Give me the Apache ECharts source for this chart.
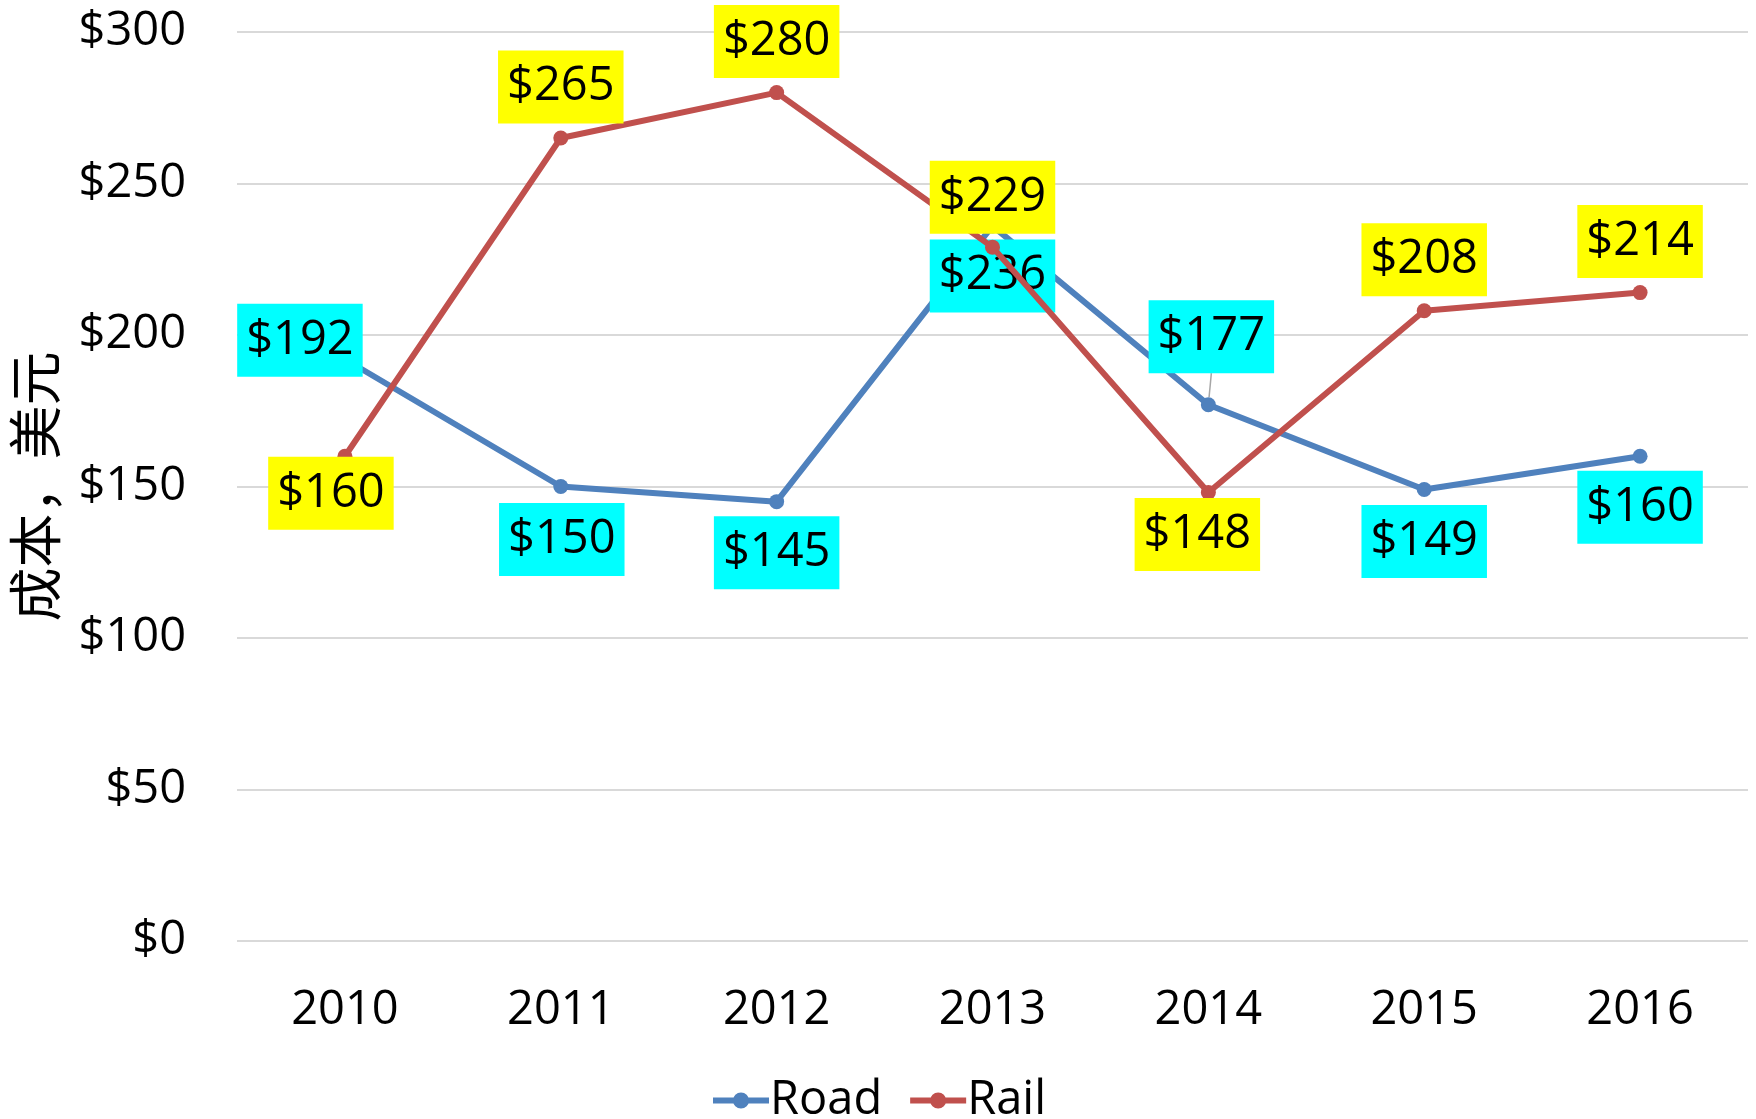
<!DOCTYPE html>
<html>
<head>
<meta charset="utf-8">
<script src="https://cdn.jsdelivr.net/npm/echarts@6/dist/echarts.min.js"></script>
<style>
  html, body { margin: 0; padding: 0; background: #fff; }
  #main { width: 1756px; height: 1119px; }
</style>
</head>
<body>
<div id="main"></div>
<script>
// chart data
const years = ['2010', '2011', '2012', '2013', '2014', '2015', '2016']
const roadCost = [192, 150, 145, 236, 177, 149, 160]
const railCost = [160, 265, 280, 229, 148, 208, 214]
const yTicks = [0, 50, 100, 150, 200, 250, 300]

// label placement (offset of label centre from its point, px)
const roadLabelShift = [[-45, -19], [1, 53], [0, 51], [0, 50], [3, -68], [0, 52], [0, 51]]
const railLabelShift = [[-14, 37], [0, -51], [0, -51], [0, -50], [-11, 42], [0, -51], [0, -51]]

const font = '"Open Sans", "Liberation Sans", sans-serif'
// legend marker: thick line with a dot in the middle
const legendIcon = 'path://M0,5 L56,5 L56,11 L0,11 Z M20,8 A8,8 0 1,1 36,8 A8,8 0 1,1 20,8 Z'

const chart = echarts.init(document.getElementById('main'))

function labelStyle(bg) {
  return {
    show: true,
    position: 'inside',
    formatter: p => '$' + p.value,
    color: '#000',
    fontFamily: font,
    fontSize: 47,
    lineHeight: 58,
    backgroundColor: bg,
    padding: [9, 9, 6, 9]
  }
}

chart.setOption({
  animation: false,
  grid: {
    left: 237,
    right: 8,
    top: 32,
    bottom: 178,
    containLabel: false,
    outerBoundsMode: 'none'
  },
  legend: {
    left: 708,
    top: 1072,
    itemWidth: 56,
    itemHeight: 16,
    itemGap: 28,
    icon: legendIcon,
    textStyle: {
      fontFamily: font,
      fontSize: 47,
      color: '#000',
      padding: [0, 0, 0, -4]
    },
    data: ['Road', 'Rail']
  },
  xAxis: {
    type: 'category',
    data: years,
    boundaryGap: true,
    axisLine: { show: false },
    axisTick: { show: false },
    axisLabel: {
      margin: 46,
      color: '#000',
      fontFamily: font,
      fontSize: 47
    }
  },
  yAxis: {
    type: 'value',
    min: yTicks[0],
    max: yTicks[yTicks.length - 1],
    interval: yTicks[1] - yTicks[0],
    name: '成本，美元',
    nameLocation: 'middle',
    nameRotate: 90,
    nameGap: 175,
    nameTextStyle: {
      fontFamily: '"Noto Sans CJK SC", sans-serif',
      fontSize: 54,
      color: '#000'
    },
    axisLine: { show: false },
    axisTick: { show: false },
    splitLine: { lineStyle: { color: '#D9D9D9', width: 2 } },
    axisLabel: {
      margin: 51,
      color: '#000',
      fontFamily: font,
      fontSize: 47,
      formatter: v => '$' + v
    }
  },
  series: [
    {
      name: 'Road',
      type: 'line',
      data: roadCost.map((v, i) => i === 4 ? { value: v, labelLine: { show: true } } : v),
      symbol: 'circle',
      symbolSize: 15,
      color: '#4F81BD',
      lineStyle: { color: '#4F81BD', width: 6 },
      label: labelStyle('#00FFFF'),
      labelLine: { show: false, lineStyle: { color: '#A6A6A6', width: 1.5 } },
      labelLayout: p => ({ dx: roadLabelShift[p.dataIndex][0], dy: roadLabelShift[p.dataIndex][1] }),
      z: 2
    },
    {
      name: 'Rail',
      type: 'line',
      data: railCost,
      symbol: 'circle',
      symbolSize: 15,
      color: '#C0504D',
      lineStyle: { color: '#C0504D', width: 6 },
      label: labelStyle('#FFFF00'),
      labelLayout: p => ({ dx: railLabelShift[p.dataIndex][0], dy: railLabelShift[p.dataIndex][1] }),
      z: 3
    }
  ]
})
</script>
</body>
</html>
